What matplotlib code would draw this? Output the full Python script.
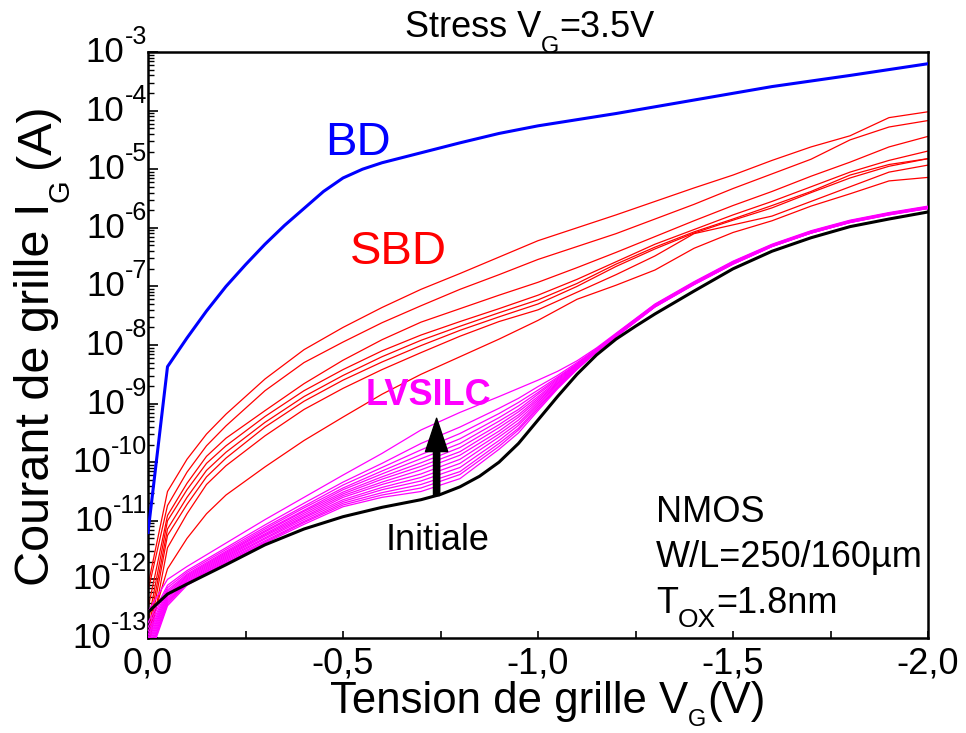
import matplotlib
matplotlib.use("Agg")
import matplotlib.pyplot as plt
import numpy as np
from matplotlib.ticker import FixedLocator, FixedFormatter, LogLocator, NullFormatter

plt.rcParams['font.family'] = ['Liberation Sans', 'DejaVu Sans']

# ---------------- data (log10 of gate current in A) ----------------
v_bd = [0, -0.05, -0.1, -0.15, -0.2, -0.25, -0.3, -0.35, -0.4, -0.45, -0.5, -0.55,
        -0.6, -0.7, -0.8, -0.9, -1.0, -1.2, -1.4, -1.6, -1.8, -2.0]
log_bd = [-11.2, -8.37, -7.88, -7.42, -7.0, -6.63, -6.28, -5.96, -5.67, -5.38, -5.15,
          -5.0, -4.89, -4.72, -4.55, -4.39, -4.26, -4.05, -3.82, -3.59, -3.40, -3.2]

v_init = [0, -0.05, -0.1, -0.2, -0.3, -0.4, -0.5, -0.6, -0.7, -0.75, -0.8, -0.85,
          -0.9, -0.95, -1.0, -1.05, -1.1, -1.15, -1.2, -1.25, -1.3, -1.4, -1.5,
          -1.6, -1.7, -1.8, -1.9, -2.0]
log_initiale = [-12.56, -12.25, -12.08, -11.75, -11.41, -11.14, -10.93, -10.77,
                -10.64, -10.55, -10.42, -10.24, -10.0, -9.68, -9.28, -8.88, -8.5,
                -8.17, -7.9, -7.68, -7.47, -7.08, -6.70, -6.40, -6.17, -5.98,
                -5.85, -5.73]

v_sbd = [0, -0.05, -0.1, -0.15, -0.2, -0.3, -0.4, -0.5, -0.6, -0.7, -0.8, -0.9,
         -1.0, -1.1, -1.2, -1.3, -1.4, -1.5, -1.6, -1.7, -1.8, -1.9, -2.0]
log_sbd_1 = [-12.1, -10.50, -9.95, -9.52, -9.18, -8.58, -8.08, -7.70, -7.36, -7.05,
             -6.78, -6.5, -6.22, -6.0, -5.78, -5.55, -5.32, -5.1, -4.85, -4.62,
             -4.43, -4.12, -4.02]
log_sbd_2 = [-12.2, -10.74, -10.17, -9.72, -9.38, -8.78, -8.30, -7.95, -7.62, -7.33,
             -7.05, -6.8, -6.54, -6.32, -6.1, -5.85, -5.6, -5.33, -5.08, -4.83,
             -4.5, -4.28, -4.17]
log_sbd_3 = [-12.5, -10.91, -10.36, -9.90, -9.59, -9.12, -8.66, -8.26, -7.91, -7.61,
             -7.38, -7.15, -6.93, -6.68, -6.42, -6.15, -5.88, -5.62, -5.38, -5.12,
             -4.88, -4.62, -4.44]
log_sbd_4 = [-12.75, -11.0, -10.47, -10.02, -9.72, -9.22, -8.78, -8.42, -8.1, -7.83,
             -7.6, -7.38, -7.15, -6.88, -6.58, -6.28, -6.03, -5.78, -5.55, -5.3,
             -5.05, -4.85, -4.69]
log_sbd_5 = [-12.9, -11.14, -10.6, -10.14, -9.83, -9.32, -8.88, -8.52, -8.2, -7.92,
             -7.68, -7.45, -7.23, -6.95, -6.62, -6.33, -6.07, -5.85, -5.62, -5.38,
             -5.1, -4.92, -4.82]
log_sbd_6 = [-13.05, -11.25, -10.72, -10.25, -9.93, -9.4, -8.96, -8.6, -8.29, -8.01,
             -7.75, -7.52, -7.3, -7.0, -6.66, -6.36, -6.09, -5.87, -5.66, -5.40,
             -5.15, -4.95, -4.82]
log_sbd_7 = [-13.2, -11.46, -10.88, -10.38, -10.06, -9.55, -9.1, -8.74, -8.42, -8.13,
             -7.85, -7.6, -7.4, -7.1, -6.8, -6.48, -6.1, -5.95, -5.8, -5.55,
             -5.3, -5.05, -4.93]
log_sbd_8 = [-12.95, -11.82, -11.3, -10.88, -10.56, -10.08, -9.63, -9.23, -8.84, -8.5,
             -8.2, -7.9, -7.58, -7.22, -6.98, -6.72, -6.35, -6.08, -5.88, -5.63,
             -5.42, -5.2, -5.14]

v_lv = [0, -0.05, -0.1, -0.2, -0.3, -0.4, -0.5, -0.6, -0.7, -0.8, -0.9, -0.95,
        -1.0, -1.05, -1.1, -1.15, -1.2, -1.3, -1.4, -1.5, -1.6, -1.7, -1.8, -1.9, -2.0]
log_lv_1 = [-12.55, -12.00, -11.78, -11.38, -10.98, -10.60, -10.22, -9.85, -9.45, -9.15, -8.88, -8.74, -8.60, -8.45, -8.27, -8.05, -7.80, -7.30, -6.92, -6.57, -6.28, -6.05, -5.87, -5.74, -5.63]
log_lv_2 = [-12.74, -12.10, -11.85, -11.46, -11.07, -10.70, -10.34, -10.02, -9.68, -9.40, -9.08, -8.91, -8.71, -8.52, -8.30, -8.07, -7.81, -7.31, -6.93, -6.58, -6.29, -6.06, -5.88, -5.75, -5.64]
log_lv_3 = [-12.82, -12.14, -11.88, -11.49, -11.11, -10.75, -10.39, -10.09, -9.79, -9.51, -9.17, -8.98, -8.77, -8.55, -8.32, -8.07, -7.82, -7.31, -6.94, -6.58, -6.29, -6.06, -5.88, -5.75, -5.64]
log_lv_4 = [-12.89, -12.18, -11.91, -11.52, -11.14, -10.78, -10.44, -10.15, -9.87, -9.60, -9.24, -9.04, -8.81, -8.57, -8.33, -8.08, -7.82, -7.32, -6.94, -6.59, -6.30, -6.07, -5.89, -5.75, -5.65]
log_lv_5 = [-12.95, -12.21, -11.93, -11.54, -11.17, -10.82, -10.47, -10.20, -9.94, -9.68, -9.30, -9.10, -8.84, -8.59, -8.34, -8.08, -7.83, -7.32, -6.94, -6.59, -6.30, -6.07, -5.89, -5.76, -5.65]
log_lv_6 = [-13.00, -12.24, -11.95, -11.56, -11.19, -10.84, -10.51, -10.25, -10.01, -9.75, -9.36, -9.14, -8.88, -8.61, -8.35, -8.09, -7.83, -7.33, -6.95, -6.60, -6.30, -6.07, -5.89, -5.76, -5.65]
log_lv_7 = [-13.05, -12.27, -11.97, -11.58, -11.22, -10.87, -10.54, -10.29, -10.07, -9.82, -9.41, -9.19, -8.91, -8.63, -8.36, -8.09, -7.84, -7.33, -6.95, -6.60, -6.30, -6.08, -5.89, -5.76, -5.65]
log_lv_8 = [-13.10, -12.29, -11.99, -11.60, -11.24, -10.90, -10.57, -10.34, -10.13, -9.88, -9.47, -9.23, -8.94, -8.65, -8.37, -8.10, -7.84, -7.33, -6.95, -6.60, -6.31, -6.08, -5.90, -5.76, -5.66]
log_lv_9 = [-13.15, -12.32, -12.01, -11.62, -11.26, -10.93, -10.60, -10.38, -10.20, -9.95, -9.52, -9.28, -8.97, -8.66, -8.38, -8.10, -7.84, -7.34, -6.96, -6.61, -6.31, -6.08, -5.90, -5.77, -5.66]
log_lv_10 = [-13.20, -12.35, -12.03, -11.64, -11.29, -10.95, -10.64, -10.43, -10.26, -10.02, -9.57, -9.33, -9.00, -8.68, -8.39, -8.10, -7.85, -7.34, -6.96, -6.61, -6.31, -6.08, -5.90, -5.77, -5.66]
log_lv_11 = [-13.26, -12.37, -12.05, -11.66, -11.31, -10.98, -10.67, -10.47, -10.32, -10.09, -9.63, -9.37, -9.03, -8.70, -8.39, -8.11, -7.85, -7.34, -6.96, -6.61, -6.31, -6.09, -5.90, -5.77, -5.66]
log_lv_12 = [-13.31, -12.40, -12.06, -11.68, -11.34, -11.01, -10.70, -10.52, -10.38, -10.16, -9.68, -9.42, -9.06, -8.72, -8.40, -8.11, -7.85, -7.35, -6.96, -6.62, -6.32, -6.09, -5.91, -5.77, -5.67]
log_lv_13 = [-13.35, -12.42, -12.08, -11.70, -11.36, -11.03, -10.73, -10.56, -10.44, -10.21, -9.73, -9.45, -9.09, -8.73, -8.41, -8.12, -7.86, -7.35, -6.97, -6.62, -6.32, -6.09, -5.91, -5.78, -5.67]
log_lv_14 = [-13.40, -12.45, -12.10, -11.72, -11.38, -11.06, -10.76, -10.60, -10.50, -10.28, -9.78, -9.50, -9.12, -8.75, -8.42, -8.12, -7.86, -7.35, -6.97, -6.62, -6.32, -6.09, -5.91, -5.78, -5.67]

sbd_curves = [log_sbd_1, log_sbd_2, log_sbd_3, log_sbd_4,
              log_sbd_5, log_sbd_6, log_sbd_7, log_sbd_8]
lv_curves = [log_lv_1, log_lv_2, log_lv_3, log_lv_4, log_lv_5, log_lv_6, log_lv_7,
             log_lv_8, log_lv_9, log_lv_10, log_lv_11, log_lv_12, log_lv_13, log_lv_14]

arrow_v = -0.74
arrow_from_log = -10.57
arrow_to_log = -9.25

x_ticks = [0.0, -0.5, -1.0, -1.5, -2.0]
x_ticklabels = ["0,0", "-0,5", "-1,0", "-1,5", "-2,0"]
x_minor = [-0.25, -0.75, -1.25, -1.75]
y_exponents = [-13, -12, -11, -10, -9, -8, -7, -6, -5, -4, -3]

# ---------------- figure ----------------
W, H = 966, 733
fig = plt.figure(figsize=(W / 100, H / 100), dpi=100)
L, R, T, B = 148, 928, 52, 638
ax = fig.add_axes([L / W, 1 - B / H, (R - L) / W, (B - T) / H])
renderer = fig.canvas.get_renderer()

for c in sbd_curves:
    ax.plot(v_sbd, 10 ** np.array(c), color='#ff0000', lw=0.9, zorder=2)
for c in lv_curves:
    ax.plot(v_lv, 10 ** np.array(c), color='#ff00ff', lw=0.9, zorder=3)
ax.plot(v_init, 10 ** np.array(log_initiale), color='black', lw=2.2, zorder=4)
ax.plot(v_bd, 10 ** np.array(log_bd), color='#0000ff', lw=2.2, zorder=4)

ax.annotate('', xy=(arrow_v, 10 ** arrow_to_log), xytext=(arrow_v, 10 ** arrow_from_log),
            arrowprops=dict(facecolor='black', edgecolor='black', width=4.5,
                            headwidth=16, headlength=24, shrink=0), zorder=5)

ax.set_yscale('log')
ax.set_xlim(0, -2.0)
ax.set_ylim(1e-13, 1e-3)

ax.xaxis.set_major_locator(FixedLocator(x_ticks))
ax.xaxis.set_major_formatter(FixedFormatter(x_ticklabels))
ax.xaxis.set_minor_locator(FixedLocator(x_minor))
ax.yaxis.set_major_locator(FixedLocator([10.0 ** e for e in y_exponents]))
ax.yaxis.set_major_formatter(NullFormatter())
ax.yaxis.set_minor_locator(LogLocator(base=10, subs=np.arange(2, 10), numticks=30))
ax.yaxis.set_minor_formatter(NullFormatter())

ax.tick_params(axis='x', which='both', direction='in', length=5, width=1.2,
               labelsize=26, pad=6, top=False)
ax.tick_params(axis='y', which='major', direction='in', length=7, width=1.2, right=False)
ax.tick_params(axis='y', which='minor', direction='in', length=4, width=1.0, right=False)
for s in ax.spines.values():
    s.set_linewidth(1.8)

# y tick labels: "10" with a raised exponent written with a hyphen
for e in y_exponents:
    ex = ax.annotate('%d' % e, xy=(0, 10.0 ** e), xycoords=('axes fraction', 'data'),
                     xytext=(-1, 8), textcoords='offset pixels', ha='right',
                     va='baseline', fontsize=18, annotation_clip=False)
    wpx = ex.get_window_extent(renderer).width
    ax.annotate('10', xy=(0, 10.0 ** e), xycoords=('axes fraction', 'data'),
                xytext=(-1 - wpx, -10), textcoords='offset pixels', ha='right',
                va='baseline', fontsize=25, annotation_clip=False)


def run_text(x_px, y_px, pieces, rotation=0, color='black'):
    """pieces: (text, fontsize, drop_px, extra_gap_px); start at baseline (pixels from top-left)."""
    x, y = x_px, y_px
    for s, fs, drop, gap in pieces:
        if rotation == 0:
            x += gap
            t = fig.text(x / W, 1 - (y + drop) / H, s, fontsize=fs, color=color,
                         ha='left', va='baseline')
            x += t.get_window_extent(renderer).width
        else:
            y -= gap
            t = fig.text((x + drop) / W, 1 - y / H, s, fontsize=fs, color=color,
                         ha='left', va='baseline', rotation=90, rotation_mode='anchor')
            y -= t.get_window_extent(renderer).height


# title
run_text(405, 37, [('Stress V', 26, 0, 0), ('G', 17, 16, 0), ('=3.5V', 26, 0, 0)])
# x label
run_text(330, 713, [('Tension de grille V', 31.5, 0, 0), ('G', 17, 13, 0), ('(V)', 31.5, 0, 1)])
# y label (rotated)
run_text(49, 586, [('Courant de grille I', 35, 0, 0), ('G', 21, 20, 0), ('(A)', 35, 0, 12)],
         rotation=90)


def axp(px, py):
    return ((px - L) / (R - L), (B - py) / (B - T))


ax.text(*axp(325, 155), 'BD', color='#0000ff', fontsize=34, transform=ax.transAxes,
        ha='left', va='baseline')
ax.text(*axp(350, 264), 'SBD', color='#ff0000', fontsize=34, transform=ax.transAxes,
        ha='left', va='baseline')
ax.text(*axp(366, 405), 'LVSILC', color='#ff00ff', fontsize=26, fontweight='bold',
        transform=ax.transAxes, ha='left', va='baseline')
ax.text(*axp(386, 550), 'Initiale', color='black', fontsize=26, transform=ax.transAxes,
        ha='left', va='baseline')
ax.text(*axp(656, 522), 'NMOS', color='black', fontsize=26, transform=ax.transAxes,
        ha='left', va='baseline')
ax.text(*axp(656, 567), 'W/L=250/160\u00b5m', color='black', fontsize=26,
        transform=ax.transAxes, ha='left', va='baseline')
run_text(656, 613, [('T', 26, 0, 0), ('OX', 19, 14, 0), ('=1.8nm', 26, 0, 0)])

fig.savefig('out.png', dpi=100)
